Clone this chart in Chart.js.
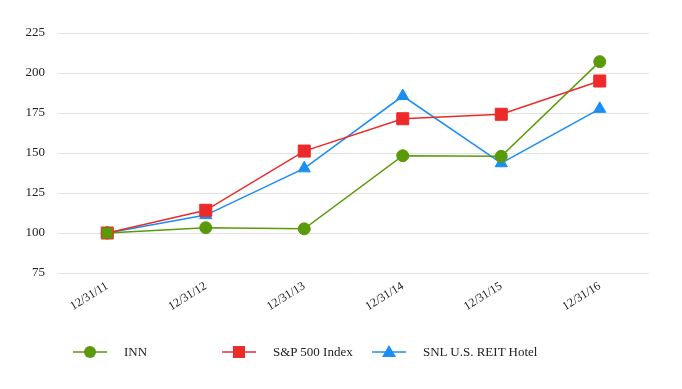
<!DOCTYPE html>
<html>
<head>
<meta charset="utf-8">
<script src="https://cdn.jsdelivr.net/npm/chart.js@4/dist/chart.umd.min.js"></script>
<style>
  html, body { margin: 0; padding: 0; background: #fff; }
  #wrap { position: relative; width: 682px; height: 389px; }
  #c { position: absolute; left: 0; top: 0; }
  #legend { position: absolute; left: 0; top: 342px; width: 682px; height: 20px;
            font-family: "Liberation Serif", "Times New Roman", serif; font-size: 13px; color: #222; }
  .item { position: absolute; top: 0; height: 20px; display: flex; align-items: center; }
  .item svg { margin-right: 17px; }
</style>
</head>
<body>
<div id="wrap">
  <canvas id="c" width="682" height="389"></canvas>
  <div id="legend"></div>
</div>
<script>
const categories = ["12/31/11", "12/31/12", "12/31/13", "12/31/14", "12/31/15", "12/31/16"];
const innValues = [100, 103.3, 102.6, 148.3, 147.9, 207.1];
const spValues = [100, 114.2, 151.2, 171.4, 174.2, 195.0];
const snlValues = [100, 111.2, 140.4, 185.6, 143.6, 177.6];
const seriesNames = ["INN", "S&P 500 Index", "SNL U.S. REIT Hotel"];
const yTicks = [75, 100, 125, 150, 175, 200, 225];

const GREEN = "#5a9a0a", RED = "#ec2a2a", BLUE = "#1a8ef2";

const ctx = document.getElementById("c");
new Chart(ctx, {
  type: "line",
  data: {
    labels: categories,
    datasets: [
      { label: seriesNames[2], data: snlValues, borderColor: BLUE, backgroundColor: BLUE,
        pointBackgroundColor: BLUE, pointBorderColor: BLUE, pointStyle: "triangle",
        pointRadius: 7, borderWidth: 1.5, pointBorderWidth: 1, order: 3 },
      { label: seriesNames[0], data: innValues, borderColor: GREEN, backgroundColor: GREEN,
        pointBackgroundColor: GREEN, pointBorderColor: GREEN, pointStyle: "circle",
        pointRadius: 6, borderWidth: 1.5, pointBorderWidth: 1, order: 2 },
      { label: seriesNames[1], data: spValues, borderColor: RED, backgroundColor: RED,
        pointBackgroundColor: [GREEN, RED, RED, RED, RED, RED], pointBorderColor: RED,
        pointStyle: "rect", pointRadius: 8.5, borderWidth: 1.5, pointBorderWidth: 1, order: 1 }
    ]
  },
  options: {
    responsive: false,
    animation: false,
    layout: { padding: { top: 33, right: 33, left: 0, bottom: 60 } },
    plugins: { legend: { display: false }, tooltip: { enabled: false } },
    scales: {
      x: {
        offset: true,
        grid: { display: false, drawTicks: false },
        border: { display: false },
        ticks: { color: "#222", font: { family: "Liberation Serif", size: 12 },
                 minRotation: 32, maxRotation: 32, padding: 6 },
        afterFit: (a) => { a.height = 56; }
      },
      y: {
        min: 75, max: 225,
        afterBuildTicks: (a) => { a.ticks = yTicks.map(v => ({ value: v })); },
        grid: { color: "#e3e3e3", lineWidth: 1, drawTicks: false },
        border: { display: false },
        ticks: { color: "#222", font: { family: "Liberation Serif", size: 13 }, padding: 13 },
        afterFit: (a) => { a.width = 58; }
      }
    }
  }
});

// HTML legend
const legend = document.getElementById("legend");
const legendItems = [
  { name: seriesNames[0], color: GREEN, shape: "circle", x: 73 },
  { name: seriesNames[1], color: RED, shape: "rect", x: 222 },
  { name: seriesNames[2], color: BLUE, shape: "triangle", x: 372 }
];
legendItems.forEach(it => {
  const d = document.createElement("div");
  d.className = "item";
  d.style.left = it.x + "px";
  let m = "";
  if (it.shape === "circle") m = `<circle cx="17" cy="10" r="6" fill="${it.color}"/>`;
  else if (it.shape === "rect") m = `<rect x="11" y="4" width="12" height="12" fill="${it.color}"/>`;
  else m = `<polygon points="17,3 24,15 10,15" fill="${it.color}"/>`;
  d.innerHTML = `<svg width="34" height="20"><line x1="0" y1="10" x2="34" y2="10" stroke="${it.color}" stroke-width="1.5"/>${m}</svg><span>${it.name}</span>`;
  legend.appendChild(d);
});
</script>
</body>
</html>
